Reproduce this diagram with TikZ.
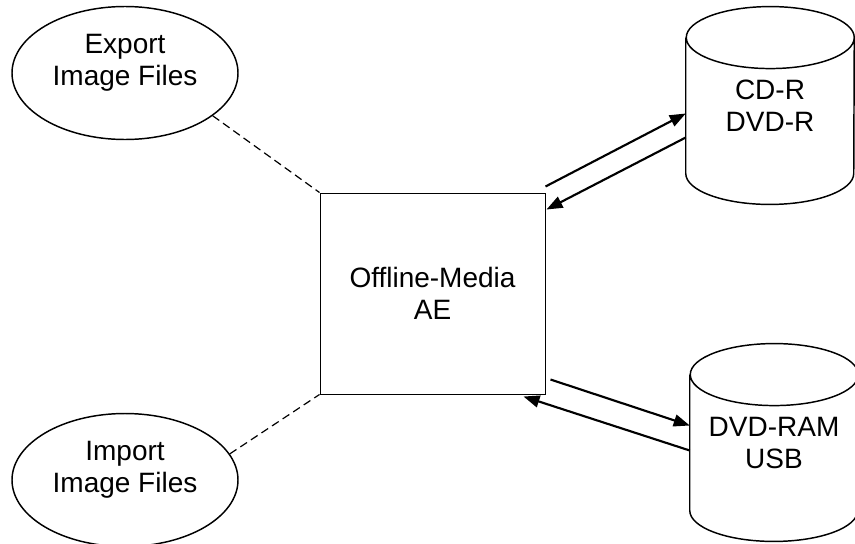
\documentclass[tikz,border=0pt]{standalone}
\usepackage{fontspec}
\setmainfont{Liberation Sans}
\usetikzlibrary{calc,arrows.meta,shapes.geometric}

\begin{document}
\begin{tikzpicture}[x=0.75pt,y=-0.75pt]
    \newcommand{\fs}{\fontsize{21}{24}\selectfont};
    \newcommand{\ry}{23.25pt};
    \newcommand{\rx}{63pt};
    \useasboundingbox (0,0) rectangle (855,543);
    \tikzset{tip/.style={-{Triangle[length=12pt,width=9pt]},line width=1.6pt}}
    \tikzset{usecase/.style={draw,ellipse,line width=1.1pt,inner sep=0,align=center,font=\fs,
        minimum width=169.5pt,minimum height=99.75pt,text depth=20pt}}
    \tikzset{media/.style={inner sep=0,align=center,font=\fs,minimum width=126pt,minimum height=148pt}}
    % outline of a disk drum round a media node
    \newcommand{\drum}[1]{\draw[line width=1.1pt] ([yshift=-\ry]#1.north west) -- ([yshift=\ry]#1.south west)
        arc[start angle=180,end angle=360,x radius=\rx,y radius=\ry] -- ([yshift=-\ry]#1.north east)
        arc[start angle=0,end angle=360,x radius=\rx,y radius=\ry];}

    \node[usecase] (export) at (125,73) {Export\\Image Files};
    \node[usecase] (import) at (125,480) {Import\\Image Files};
    \node[draw,line width=0.75pt,inner sep=0,align=center,font=\fs,
        minimum width=168.75pt,minimum height=150.75pt] (ae) at (432.5,293.5) {Offline-Media\\AE};
    \node[media] (cdr) at (770,105.5) {CD-R\\DVD-R};
    \node[media] (dvdram) at (774,442.5) {DVD-RAM\\USB};
    \drum{cdr}
    \drum{dvdram}

    \draw[dashed,line width=0.9pt,dash pattern=on 6pt off 3.5pt] (export.-26) -- (ae.north west);
    \draw[dashed,line width=0.9pt,dash pattern=on 6pt off 3.5pt] (import.14) -- (ae.south west);

    \draw[tip] ($(ae.north east)+(0,-6)$) -- ($(cdr.west)+(0,8)$);
    \draw[tip] ($(cdr.west)+(0,32)$) -- ($(ae.north east)+(1,17)$);
    \draw[tip] ($(ae.south east)+(5,-15)$) -- ($(dvdram.west)+(0,-17)$);
    \draw[tip] ($(dvdram.west)+(0,8)$) -- ($(ae.south east)+(-22,2)$);
\end{tikzpicture}
\end{document}
